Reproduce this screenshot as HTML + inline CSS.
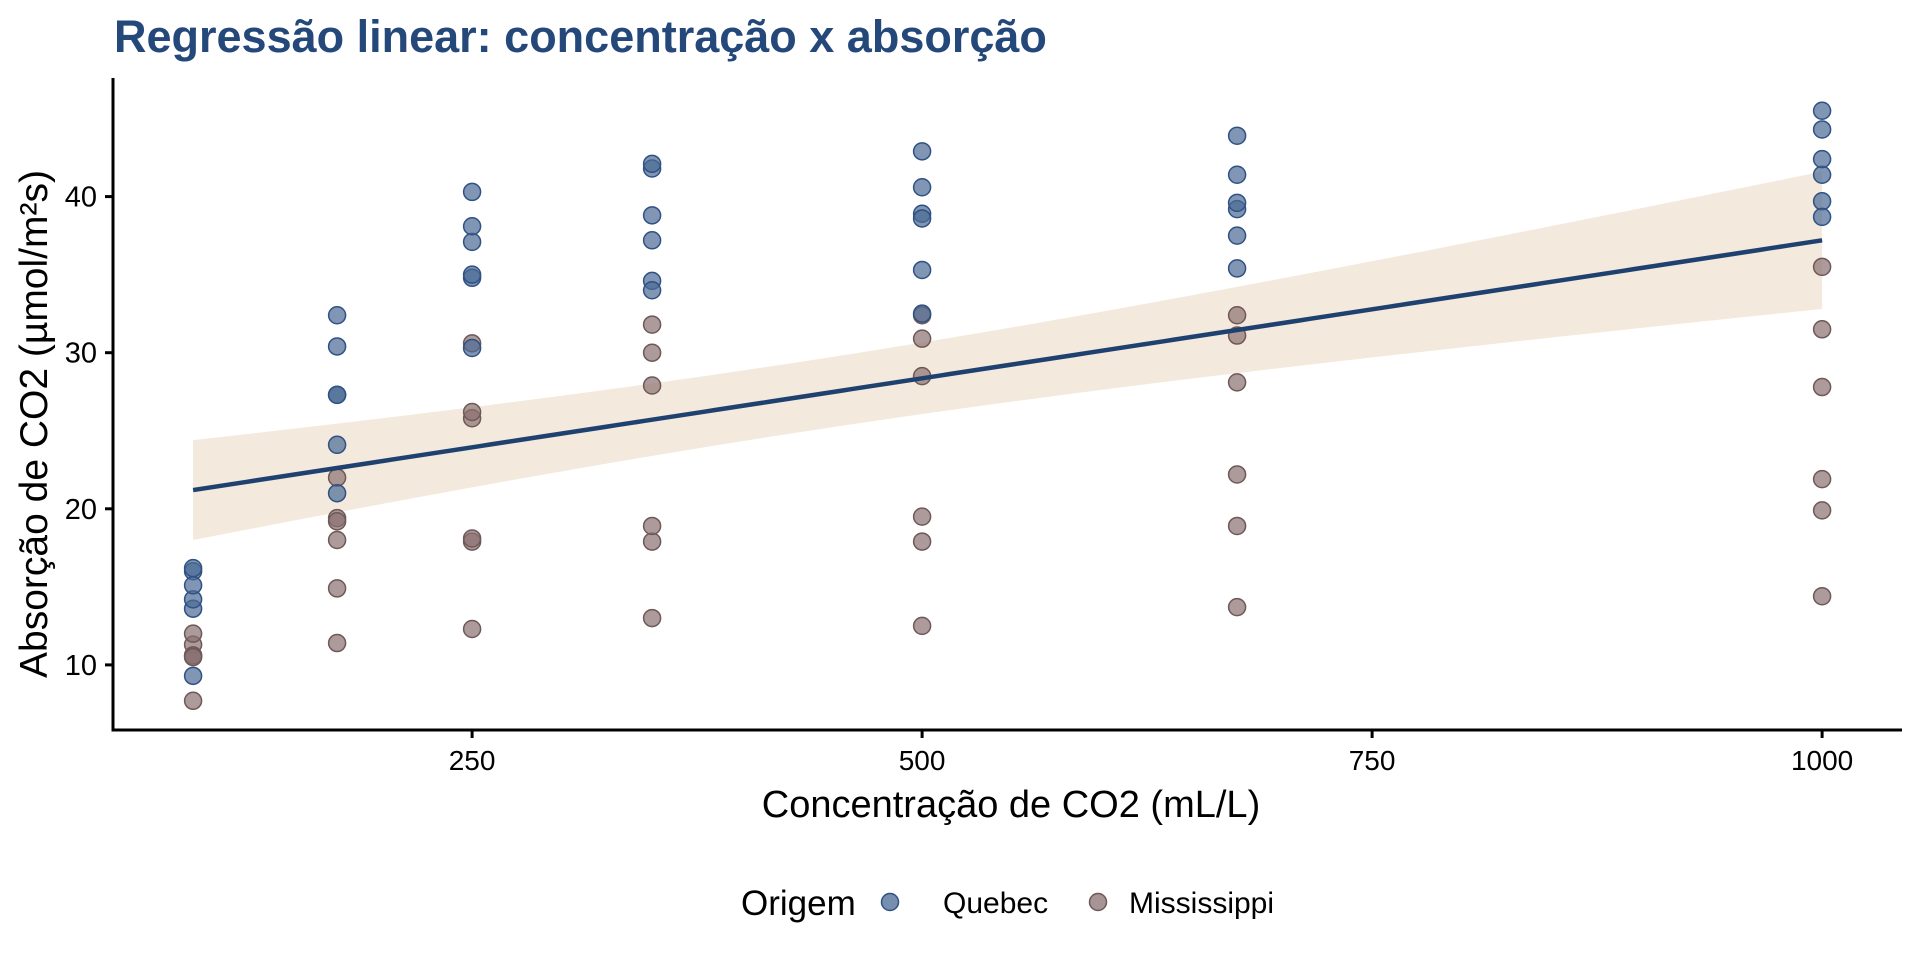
<!DOCTYPE html>
<html><head><meta charset="utf-8"><style>
body{margin:0;background:#fff;}
text{font-family:"Liberation Sans",Arial,sans-serif;}
</style></head><body>
<svg id="s" width="1920" height="960" xmlns="http://www.w3.org/2000/svg">
<text x="114" y="52" font-size="45" font-weight="bold" fill="#24487a">Regressão linear: concentração x absorção</text>
<g id="rib"></g><g id="pts"></g><g id="ln"></g>
<line x1="113" y1="78" x2="113" y2="731" stroke="#000" stroke-width="3"/>
<line x1="111.5" y1="730" x2="1902" y2="730" stroke="#000" stroke-width="3"/>
<g id="ax" font-size="28" fill="#000"></g>
<text x="1011" y="817" font-size="38" text-anchor="middle">Concentração de CO2 (mL/L)</text>
<text transform="translate(47,424) rotate(-90)" font-size="39" text-anchor="middle">Absorção de CO2 (µmol/m²s)</text>
<text x="741" y="915" font-size="35">Origem</text>
<circle cx="890" cy="902" r="8.5" fill="#4a6a94" fill-opacity="0.75" stroke="#2f5184" stroke-width="1.5"/>
<text x="943" y="913" font-size="30">Quebec</text>
<circle cx="1098" cy="902" r="8.5" fill="#8a7070" fill-opacity="0.75" stroke="#6e5858" stroke-width="1.5"/>
<text x="1129" y="913" font-size="30">Mississippi</text>
</svg>
<script>
var NS="http://www.w3.org/2000/svg";
function X(v){return 922.1+(v-500)*1.8;}
function Y(v){return 664.9-(v-10)*15.61;}
function el(p,t,a){var e=document.createElementNS(NS,t);for(var k in a)if(k!="txt")e.setAttribute(k,a[k]);if(a.txt){e.textContent=a.txt;}document.getElementById(p).appendChild(e);return e;}
var C=[95,175,250,350,500,675,1000];
var Q=[[16.0,30.4,34.8,37.2,35.3,39.2,39.7],[13.6,27.3,37.1,41.8,40.6,41.4,44.3],[16.2,32.4,40.3,42.1,42.9,43.9,45.5],[14.2,24.1,30.3,34.6,32.5,35.4,38.7],[15.1,21.0,38.1,34.0,38.9,39.6,41.4],[9.3,27.3,35.0,38.8,38.6,37.5,42.4]];
var M=[[11.3,19.4,25.8,27.9,28.5,28.1,27.8],[12.0,22.0,30.6,31.8,32.4,31.1,31.5],[10.6,19.2,26.2,30.0,30.9,32.4,35.5],[7.7,11.4,12.3,13.0,12.5,13.7,14.4],[10.6,18.0,17.9,17.9,17.9,18.9,19.9],[10.5,14.9,18.1,18.9,19.5,22.2,21.9]];
function f(x){return 21.2+(x-95)*(16/905);}
function h(x){return Math.sqrt(5.06+4.479e-5*(x-435)*(x-435));}
var up=[],dn=[],ln=[];
for(var x=95;x<=1000;x+=5){up.push(X(x)+","+Y(f(x)+h(x)));dn.unshift(X(x)+","+Y(f(x)-h(x)));ln.push(X(x)+","+Y(f(x)));}
el("rib","polygon",{points:up.concat(dn).join(" "),fill:"#f3e9dc"});
el("ln","polyline",{points:ln.join(" "),fill:"none",stroke:"#1f4170","stroke-width":4.5});
M.forEach(function(r){r.forEach(function(v,i){el("pts","circle",{cx:X(C[i]),cy:Y(v),r:8.5,fill:"#8a7070","fill-opacity":0.7,stroke:"#6e5858","stroke-width":1.5});});});
Q.forEach(function(r){r.forEach(function(v,i){el("pts","circle",{cx:X(C[i]),cy:Y(v),r:8.5,fill:"#4a6a94","fill-opacity":0.7,stroke:"#2f5184","stroke-width":1.5});});});
[250,500,750,1000].forEach(function(v){el("ax","line",{x1:X(v),x2:X(v),y1:731,y2:738,stroke:"#000","stroke-width":3});el("ax","text",{x:X(v),y:770,"text-anchor":"middle",txt:String(v)});});
[10,20,30,40].forEach(function(v){el("ax","line",{x1:105,x2:113,y1:Y(v),y2:Y(v),stroke:"#000","stroke-width":3});el("ax","text",{x:97,y:Y(v)+10,"text-anchor":"end","font-size":29,txt:String(v)});});
</script>
</body></html>
